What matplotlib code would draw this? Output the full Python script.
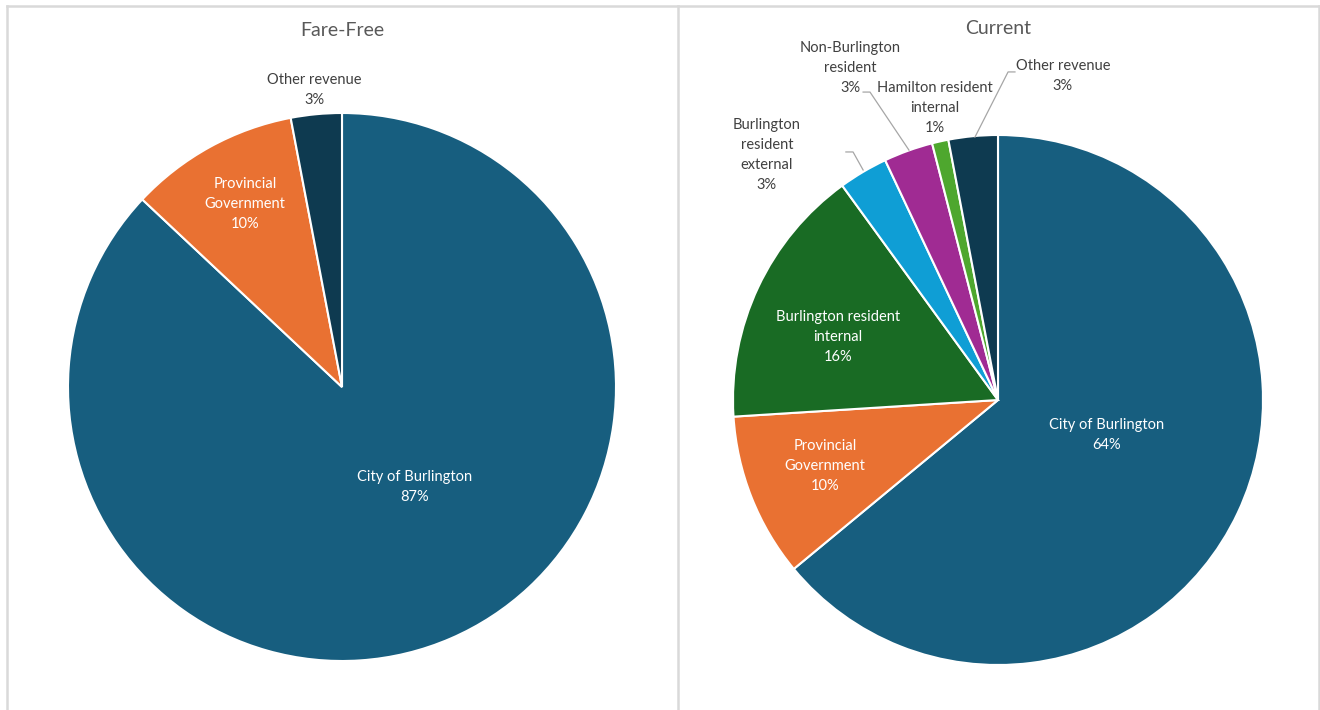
import matplotlib
matplotlib.use("Agg")
import matplotlib.pyplot as plt
from matplotlib.lines import Line2D

plt.rcParams['font.family'] = ['Lato', 'DejaVu Sans']

W, H = 1320, 710

# ---- data ----
ff_labels = ["City of Burlington", "Provincial\nGovernment", "Other revenue"]
ff_values = [87, 10, 3]
cur_labels = ["City of Burlington", "Provincial\nGovernment", "Burlington resident\ninternal",
              "Burlington\nresident\nexternal", "Non-Burlington\nresident",
              "Hamilton resident\ninternal", "Other revenue"]
cur_values = [64, 10, 16, 3, 3, 1, 3]

ff_colors = ["#175E7F", "#E97132", "#0E3A50"]
cur_colors = ["#175E7F", "#E97132", "#196B24", "#0F9ED5", "#A02B93", "#4EA72E", "#0E3A50"]

fig = plt.figure(figsize=(W / 100, H / 100), dpi=100)
fig.patch.set_facecolor("white")


def add_pie_axes(cx, cy, r):
    ax = fig.add_axes([(cx - r) / W, (H - cy - r) / H, 2 * r / W, 2 * r / H])
    return ax


def finish(ax):
    ax.set_xlim(-1, 1)
    ax.set_ylim(-1, 1)
    ax.set_aspect("equal")
    ax.axis("off")


GRAY = "#404040"
FS = 10.5
LS = 1.55

# panel borders
border = "#D9D9D9"
for (x0, y0, x1, y1) in [(7, 6, 1319, 6), (7, 6, 7, 710), (678, 6, 678, 710), (1319, 6, 1319, 710)]:
    fig.add_artist(Line2D([x0 / W, x1 / W], [1 - y0 / H, 1 - y1 / H], color=border, lw=1.8,
                          transform=fig.transFigure))

# ---- Fare-Free ----
ax1 = add_pie_axes(342, 387, 274)
ax1.pie(ff_values, colors=ff_colors, startangle=90, counterclock=False, radius=1,
        wedgeprops=dict(edgecolor="white", linewidth=1.5))
finish(ax1)
ff_pos = [(0.266, -0.365), (-0.354, 0.668), (-0.102, 1.084)]
ff_white = [True, True, False]
for lab, v, (x, y), wh in zip(ff_labels, ff_values, ff_pos, ff_white):
    ax1.text(x, y, f"{lab}\n{v}%", ha="center", va="center", fontsize=FS,
             color="white" if wh else GRAY, linespacing=LS, clip_on=False)
fig.text(342 / W, 1 - 31 / H, "Fare-Free", ha="center", va="center", fontsize=14, color="#595959")

# ---- Current ----
ax2 = add_pie_axes(998, 400, 265)
ax2.pie(cur_values, colors=cur_colors, startangle=90, counterclock=False, radius=1,
        wedgeprops=dict(edgecolor="white", linewidth=1.5))
finish(ax2)
cur_pos = [(0.408, -0.132), (-0.653, -0.249), (-0.604, 0.238), (-0.872, 0.925),
           (-0.558, 1.253), (-0.238, 1.102), (0.245, 1.223)]
cur_white = [True, True, True, False, False, False, False]
for lab, v, (x, y), wh in zip(cur_labels, cur_values, cur_pos, cur_white):
    ax2.text(x, y, f"{lab}\n{v}%", ha="center", va="center", fontsize=FS,
             color="white" if wh else GRAY, linespacing=LS, clip_on=False)
fig.text(998 / W, 1 - 28 / H, "Current", ha="center", va="center", fontsize=14, color="#595959")

# leader lines
leaders = [
    [(-0.574, 0.936), (-0.547, 0.936), (-0.509, 0.868)],
    [(-0.509, 1.162), (-0.483, 1.162), (-0.336, 0.943)],
    [(0.064, 1.238), (0.038, 1.238), (-0.087, 0.992)],
]
for pts in leaders:
    xs, ys = zip(*pts)
    ax2.plot(xs, ys, color="#A6A6A6", lw=0.9, clip_on=False)

fig.savefig("out.png", dpi=100, facecolor="white")
